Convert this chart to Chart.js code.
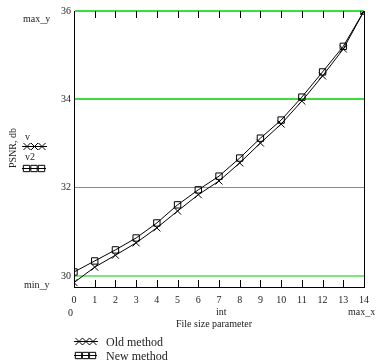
<!DOCTYPE html>
<html><head><meta charset="utf-8">
<script src="https://cdn.jsdelivr.net/npm/chart.js@4/dist/chart.umd.min.js"></script>
<style>
html,body{margin:0;padding:0;background:#fff;}
#wrap{position:relative;width:376px;height:361px;}
canvas{position:absolute;left:0;top:0;}
.t{position:absolute;font-family:"Liberation Serif","Times New Roman",serif;font-size:10px;color:#222;white-space:nowrap;line-height:1;}
.lg{font-size:12px;}
</style></head>
<body><div id="wrap"><canvas id="c" width="376" height="361"></canvas>
<div class="t" style="left:23px;top:14px;">max_y</div>
<div class="t" style="left:24px;top:280px;">min_y</div>
<div class="t" style="left:-9px;top:143px;transform:rotate(-90deg);width:44px;text-align:center;">PSNR, db</div>
<div class="t" style="left:25px;top:132px;">v</div>
<div class="t" style="left:25px;top:152px;">v2</div>
<div class="t" style="left:68px;top:308px;">0</div>
<div class="t" style="left:216px;top:307px;">int</div>
<div class="t" style="left:348px;top:307px;">max_x</div>
<div class="t" style="left:176px;top:319px;">File size parameter</div>
<div class="t lg" style="left:106px;top:336px;">Old method</div>
<div class="t lg" style="left:106px;top:350px;">New method</div>
</div>
<script>
const xValues = [0,1,2,3,4,5,6,7,8,9,10,11,12,13,14];
const oldMethod = [29.85,30.20,30.47,30.75,31.09,31.47,31.84,32.15,32.56,33.01,33.44,33.96,34.53,35.14,36.0];
const newMethod = [30.09,30.34,30.59,30.86,31.20,31.61,31.95,32.26,32.67,33.12,33.53,34.05,34.62,35.20,36.0];
const yTicks = [30,32,34,36];
const xTicks = [0,1,2,3,4,5,6,7,8,9,10,11,12,13,14];

const gridColors = {30:'#7fe67f',32:'#2ccc2c',34:'#3ddc3d',36:'#3ddc3d'};
const gridWidths = {30:2,32:1,34:2,36:2};

const extras = {
  id:'extras',
  afterDraw(chart){
    const ctx = chart.ctx, xs = chart.scales.x, a = chart.chartArea;
    ctx.save();
    ctx.strokeStyle = '#000'; ctx.lineWidth = 1;
    const rx = Math.round(xs.getPixelForValue(14))+0.5;
    ctx.beginPath(); ctx.moveTo(rx, a.top); ctx.lineTo(rx, a.bottom); ctx.stroke();
    xTicks.forEach(v=>{
      if(v===0||v===14) return;
      const px = Math.round(xs.getPixelForValue(v))+0.5;
      ctx.beginPath(); ctx.moveTo(px,a.bottom); ctx.lineTo(px,a.bottom-7); ctx.stroke();
      ctx.beginPath(); ctx.moveTo(px,a.top); ctx.lineTo(px,a.top+7); ctx.stroke();
    });
    const H = Chart.helpers;
    function glyph(x0,x1,y,style,r){
      ctx.strokeStyle='#000'; ctx.lineWidth=1;
      ctx.beginPath(); ctx.moveTo(x0,y+0.5); ctx.lineTo(x1,y+0.5); ctx.stroke();
      const step=(x1-x0-2*r)/2;
      for(let k=0;k<3;k++){
        H.drawPoint(ctx,{pointStyle:style,radius:r,borderWidth:1},x0+r+k*step,y+0.5);
      }
    }
    ctx.fillStyle='rgba(255,255,255,0)';
    glyph(22,47,146,'crossRot',5);
    glyph(22,46,168,'rect',4.5);
    glyph(74,98,341,'crossRot',5);
    glyph(74,97,355,'rect',4.5);
    ctx.restore();
  }
};

new Chart(document.getElementById('c'),{
  type:'line',
  data:{labels:xValues,datasets:[
    {label:'Old method',data:xValues.map((x,i)=>({x,y:oldMethod[i]})),borderColor:'#000',borderWidth:1,
     pointStyle:'crossRot',pointRadius:5,pointBorderColor:'#000',pointBorderWidth:1,tension:0},
    {label:'New method',data:xValues.map((x,i)=>({x,y:newMethod[i]})),borderColor:'#000',borderWidth:1,
     pointStyle:'rect',pointRadius:4.5,pointBorderColor:'#000',pointBackgroundColor:'rgba(255,255,255,0)',pointBorderWidth:1,tension:0}
  ]},
  options:{
    responsive:false,animation:false,
    layout:{padding:{top:11,right:6,left:0,bottom:0}},
    plugins:{legend:{display:false},tooltip:{enabled:false}},
    scales:{
      x:{type:'linear',min:0,max:14,
        afterBuildTicks:s=>{s.ticks=xTicks.map(v=>({value:v}));},
        afterFit:s=>{s.height=74;},
        grid:{display:true,drawOnChartArea:false,drawTicks:false},
        border:{color:'#000',width:1},
        ticks:{padding:7,color:'#222',font:{family:'Liberation Serif',size:10},maxRotation:0,autoSkip:false}},
      y:{type:'linear',min:29.75,max:36,
        afterBuildTicks:s=>{s.ticks=yTicks.map(v=>({value:v}));},
        afterFit:s=>{s.width=74;},
        grid:{drawTicks:false,color:c=>gridColors[c.tick.value]||'#0c0',lineWidth:c=>gridWidths[c.tick.value]||1},
        border:{color:'#000',width:1},
        ticks:{padding:3,color:'#222',font:{family:'Liberation Serif',size:10}}}
    }
  },
  plugins:[extras]
});
</script></body></html>
